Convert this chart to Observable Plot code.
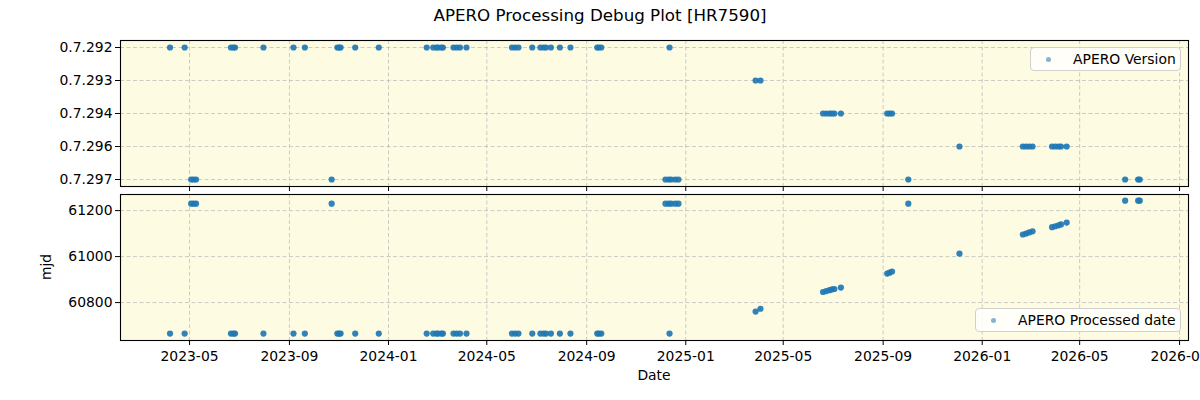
<!DOCTYPE html>
<html>
<head>
<meta charset="utf-8">
<script src="https://cdn.jsdelivr.net/npm/d3@7"></script>
<script src="https://cdn.jsdelivr.net/npm/@observablehq/plot@0.6"></script>
<style>
  html, body { margin: 0; padding: 0; background: #fff; }
  body { font-family: "DejaVu Sans", sans-serif; }
  #wrap { position: relative; width: 1200px; height: 400px; overflow: hidden; }
  .abs { position: absolute; }
  #title { left: 0; width: 1200px; top: 5px; text-align: center; font-size: 16.7px; color: #000; }
  .legend { position: absolute; background: rgba(255,255,255,0.8); border: 1px solid #d0d0d0; border-radius: 4px; font-size: 13.9px; color: #000; height: 24px; box-sizing: border-box; }
  .legend .mk { position: absolute; width: 5px; height: 5px; border-radius: 50%; background: rgba(31,119,180,0.55); }
  .legend .tx { position: absolute; top: 3px; white-space: nowrap; }
  #xlabel { left: 0; width: 1308px; top: 367px; text-align: center; font-size: 13.9px; }
  #ylabel { left: 46px; top: 267px; font-size: 13.9px; transform: translate(-50%,-50%) rotate(-90deg); }
</style>
</head>
<body>
<div id="wrap">
  <div id="title" class="abs">APERO Processing Debug Plot [HR7590]</div>
  <div id="top" class="abs" style="left:0;top:34px;"></div>
  <div id="bottom" class="abs" style="left:0;top:188px;"></div>
  <div id="xlabel" class="abs">Date</div>
  <div id="ylabel" class="abs">mjd</div>
  <div class="legend" style="left:1030px;top:47px;width:151px;">
    <div class="mk" style="left:15px;top:9px;"></div>
    <div class="tx" style="left:42px;">APERO Version</div>
  </div>
  <div class="legend" style="left:975px;top:308px;width:206px;">
    <div class="mk" style="left:15px;top:9px;"></div>
    <div class="tx" style="left:42px;">APERO Processed date</div>
  </div>
</div>
<script>
// ---- data ----
const dates = [
  "2023-04-07","2023-04-25","2023-06-21","2023-06-24","2023-06-26","2023-07-31","2023-09-06","2023-09-20",
  "2023-10-30","2023-11-01","2023-11-03","2023-11-21","2023-12-20","2024-02-17","2024-02-25","2024-02-29",
  "2024-03-02","2024-03-06","2024-03-08","2024-03-21","2024-03-25","2024-03-29","2024-04-06","2024-06-01",
  "2024-06-05","2024-06-09","2024-06-26","2024-07-06","2024-07-10","2024-07-13","2024-07-19","2024-07-30",
  "2024-08-12","2024-09-14","2024-09-16","2024-09-19","2024-12-12",
  "2023-05-03","2023-05-06","2023-05-09","2023-10-23","2024-12-07","2024-12-11","2024-12-14","2024-12-19",
  "2024-12-23","2025-10-02","2026-06-26","2026-07-12","2026-07-14",
  "2025-03-28","2025-04-03",
  "2025-06-19","2025-06-23","2025-06-27","2025-06-30","2025-07-03","2025-07-11","2025-09-06","2025-09-09","2025-09-12",
  "2025-12-04","2026-02-20","2026-02-24","2026-02-28","2026-03-04","2026-03-28","2026-04-01","2026-04-05",
  "2026-04-08","2026-04-15"
];
const versions = [
  ...Array(37).fill("0.7.292"),
  ...Array(13).fill("0.7.297"),
  "0.7.293","0.7.293",
  "0.7.294","0.7.294","0.7.294","0.7.294","0.7.294","0.7.294","0.7.294","0.7.294","0.7.294",
  "0.7.296","0.7.296","0.7.296","0.7.296","0.7.296","0.7.296","0.7.296","0.7.296","0.7.296","0.7.296"
];
const mjd = [
  ...Array(37).fill(60665),
  61230,61230,61230,61230,61230,61230,61230,61230,61230,61230,61243,61243,61243,
  60761,60773,
  60846,60850,60854,60857,60859,60865,60926,60930,60935,
  61013,61096,61100,61105,61110,61128,61132,61136,61140,61148
];
const versionOrder = ["0.7.292","0.7.293","0.7.294","0.7.296","0.7.297"];
const xTickLabels = ["2023-05","2023-09","2024-01","2024-05","2024-09","2025-01","2025-05","2025-09","2026-01","2026-05","2026-09"];
const mjdTicks = [60800, 61000, 61200];
const xDomain = ["2023-02-05","2026-09-12"];
const mjdDomain = [60635, 61270];

// ---- build ----
const parse = d3.utcParse("%Y-%m-%d");
const parseM = d3.utcParse("%Y-%m");
const idx = d3.range(dates.length);
const xd = dates.map(parse);
const xTicks = xTickLabels.map(parseM);
const fmt = d3.utcFormat("%Y-%m");

const bg = "#fdfbe2";
const gridStyle = {stroke: "#b8b8b8", strokeOpacity: 0.7, strokeDasharray: "4,2.5", strokeWidth: 1};
const style = {fontFamily: "DejaVu Sans, sans-serif", fontSize: "13.9px", color: "#000", background: "transparent", overflow: "visible"};
const dotStyle = {r: 3.1, fill: "#1f77b4", fillOpacity: 0.92};

const common = {
  width: 1200,
  marginLeft: 120,
  marginRight: 12,
  style,
  x: {type: "utc", domain: xDomain.map(parse)}
};

const topPlot = Plot.plot({
  ...common,
  height: 156,
  marginTop: 6,
  marginBottom: 4,
  y: {type: "point", domain: versionOrder, padding: 0.2},
  marks: [
    Plot.frame({fill: bg, stroke: "none"}),
    Plot.gridX(xTicks, gridStyle),
    Plot.gridY(versionOrder, gridStyle),
    Plot.dot(idx, {x: i => xd[i], y: i => versions[i], ...dotStyle}),
    Plot.axisY({ticks: versionOrder, tickSize: 5, tickPadding: 3, label: null}),
    Plot.axisX({ticks: xTicks, tickSize: 5, tickFormat: () => "", label: null}),
    Plot.frame({stroke: "#000", strokeWidth: 1.1})
  ]
});

const bottomPlot = Plot.plot({
  ...common,
  height: 212,
  marginTop: 6,
  marginBottom: 60,
  y: {domain: mjdDomain},
  marks: [
    Plot.frame({fill: bg, stroke: "none"}),
    Plot.gridX(xTicks, gridStyle),
    Plot.gridY(mjdTicks, gridStyle),
    Plot.dot(idx, {x: i => xd[i], y: i => mjd[i], ...dotStyle}),
    Plot.axisY({ticks: mjdTicks, tickSize: 5, tickPadding: 3, tickFormat: d3.format("d"), label: null}),
    Plot.axisX({ticks: xTicks, tickSize: 5, tickPadding: 6, tickFormat: fmt, label: null}),
    Plot.frame({stroke: "#000", strokeWidth: 1.1})
  ]
});

document.getElementById("top").appendChild(topPlot);
document.getElementById("bottom").appendChild(bottomPlot);
</script>
</body>
</html>
